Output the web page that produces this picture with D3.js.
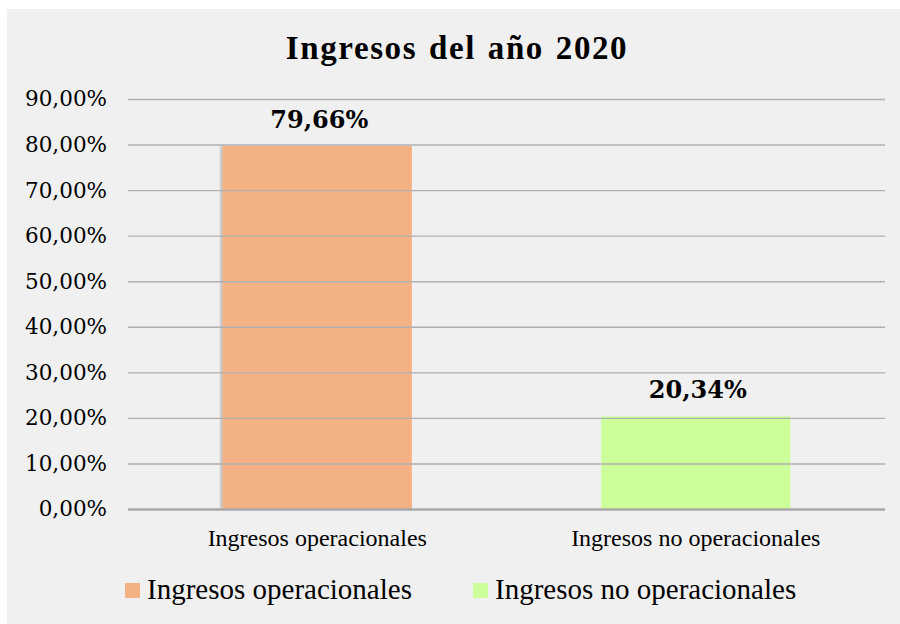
<!DOCTYPE html>
<html><head><meta charset="utf-8">
<script src="https://cdn.jsdelivr.net/npm/d3@7"></script>
<style>html,body{margin:0;padding:0;background:#fff;}svg{display:block;}</style>
</head><body>
<script>
const categories = ["Ingresos operacionales", "Ingresos no operacionales"];
const values = [0.7966, 0.2034];
const labels = ["79,66%", "20,34%"];
const colors = ["#f4b183", "#ccff99"];
const yTicks = [0, 0.1, 0.2, 0.3, 0.4, 0.5, 0.6, 0.7, 0.8, 0.9];
const title = "Ingresos del año 2020";

const W = 900, H = 624;
const serif = "'Liberation Serif', 'Times New Roman', serif";
const svg = d3.select("body").append("svg").attr("width", W).attr("height", H);
svg.append("rect").attr("x", 7).attr("y", 9).attr("width", W - 7).attr("height", H - 9).attr("fill", "#f0f0f0");

const defs = svg.append("defs");
const f = defs.append("filter").attr("id", "sh").attr("x", "-10%").attr("y", "-5%").attr("width", "120%").attr("height", "110%");
f.append("feDropShadow").attr("dx", -2).attr("dy", 0).attr("stdDeviation", 1.2).attr("flood-color", "#000").attr("flood-opacity", 0.25);

const x = d3.scaleBand().domain(categories).range([128, 885]).paddingInner(0.5).paddingOuter(0.25);
const y = d3.scaleLinear().domain([0, 0.9]).range([509, 99]);
const fmt = v => d3.format(".2f")(v * 100).replace(".", ",") + "%";

svg.append("text").attr("x", 457).attr("y", 59).attr("text-anchor", "middle")
  .attr("font-family", serif).attr("font-weight", "bold").attr("font-size", 33)
  .attr("letter-spacing", 1.6).attr("word-spacing", 2).attr("fill", "#000").text(title);

// bars
svg.selectAll("rect.bar").data(values).join("rect").attr("class", "bar")
  .attr("x", (d, i) => x(categories[i])).attr("width", x.bandwidth())
  .attr("y", d => y(d)).attr("height", d => y(0) - y(d))
  .attr("fill", (d, i) => colors[i]).attr("filter", (d, i) => i === 0 ? "url(#sh)" : null);

// gridlines on top
const yAxis = d3.axisLeft(y).tickValues(yTicks).tickFormat(fmt).tickSize(-(885 - 128)).tickPadding(21);
const gy = svg.append("g").attr("transform", "translate(128,0)").call(yAxis);
gy.select(".domain").remove();
gy.selectAll(".tick line").attr("stroke", "#b0b0b0").attr("stroke-width", 1.4);
gy.selectAll(".tick text").attr("font-family", "DejaVu Serif").attr("font-size", 21.5).attr("fill", "#000");
gy.selectAll(".tick").filter(d => d === 0).select("line").attr("stroke", "#a8a8a8").attr("stroke-width", 2.6);

// category axis labels
const xAxis = d3.axisBottom(x).tickSize(0).tickPadding(20);
const gx = svg.append("g").attr("transform", "translate(0,509)").call(xAxis);
gx.select(".domain").remove();
gx.selectAll(".tick text").attr("font-family", serif).attr("font-size", 24).attr("fill", "#000");

// data labels
svg.selectAll("text.lbl").data(values).join("text").attr("class", "lbl")
  .attr("x", (d, i) => x(categories[i]) + x.bandwidth() / 2 + 2).attr("y", d => y(d) - 18)
  .attr("text-anchor", "middle").attr("font-family", "DejaVu Serif").attr("font-weight", "bold")
  .attr("font-size", 24).attr("fill", "#000").text((d, i) => labels[i]);

// legend
const legX = [125, 473];
const lg = svg.selectAll("g.leg").data(categories).join("g").attr("class", "leg")
  .attr("transform", (d, i) => `translate(${legX[i]},583)`);
lg.append("rect").attr("width", 15).attr("height", 15).attr("fill", (d, i) => colors[i]);
lg.append("text").attr("x", 22).attr("y", 16).attr("font-family", serif).attr("font-size", 29)
  .attr("fill", "#000").text(d => d);
</script>
</body></html>
